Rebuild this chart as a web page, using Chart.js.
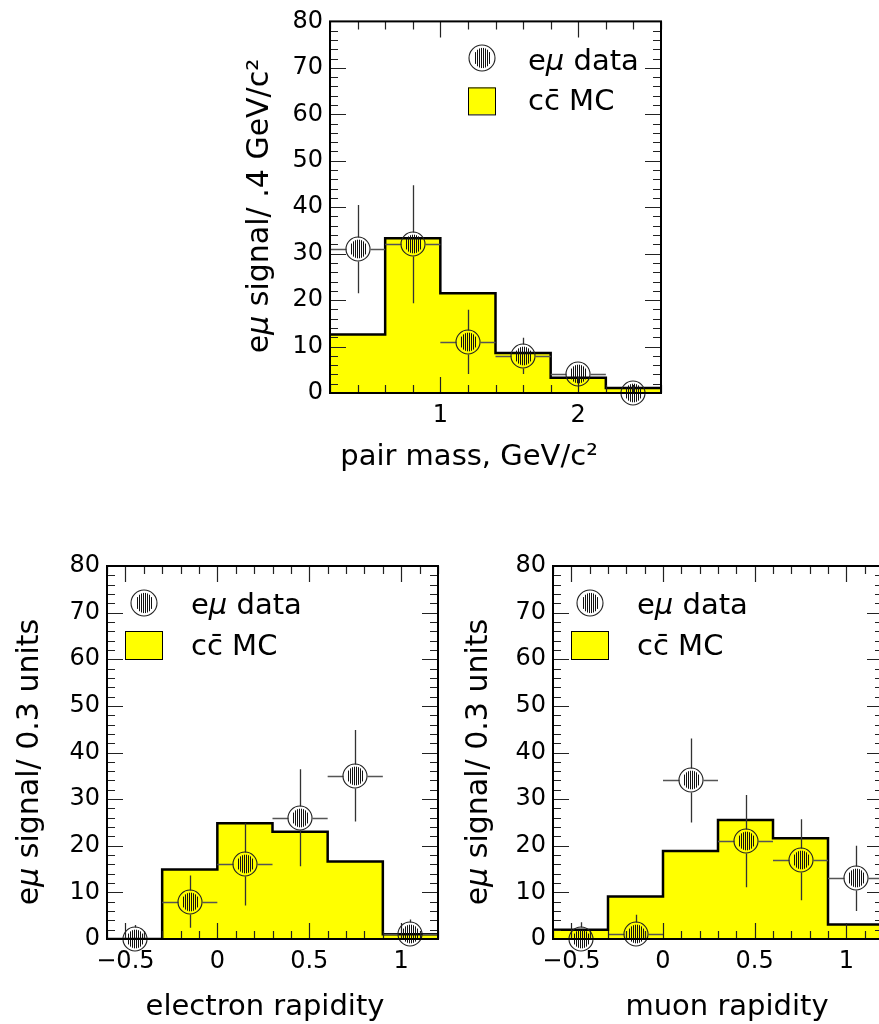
<!DOCTYPE html>
<html>
<head>
<meta charset="utf-8">
<script src="https://cdn.jsdelivr.net/npm/chart.js@4.4.1/dist/chart.umd.min.js"></script>
<style>
    html, body { margin: 0; padding: 0; background: #fff; width: 879px; height: 1024px; overflow: hidden; }
    canvas { position: absolute; }
</style>
</head>
<body>
<canvas id="mass-chart" width="460" height="480" style="left:220px; top:0px;"></canvas>
<canvas id="electron-chart" width="450" height="484" style="left:0px; top:540px;"></canvas>
<canvas id="muon-chart" width="460" height="484" style="left:440px; top:540px;"></canvas>
<script>
// pair mass panel
const massEdges = [0.2, 0.6, 1.0, 1.4, 1.8, 2.2, 2.6];
const massMC = [12.6, 33.3, 21.5, 8.6, 3.3, 1.1];
const massCenters = [0.4, 0.8, 1.2, 1.6, 2.0, 2.4];
const massData = [31, 32, 11, 8, 4, 0];
const massErr = [9.5, 12.7, 6.9, 3.9, 2, 1];
const massTicks = [1, 2];

// rapidity panels
const rapEdges = [-0.6, -0.3, 0, 0.3, 0.6, 0.9, 1.2];
const rapCenters = [-0.45, -0.15, 0.15, 0.45, 0.75, 1.05];
const electronMC = [0, 14.9, 24.8, 23.0, 16.6, 1.0];
const electronData = [0, 8, 16, 26, 35, 1];
const electronErr = [3, 5.6, 8.8, 10.4, 9.8, 3.2];
const muonMC = [2.0, 9.1, 18.9, 25.5, 21.6, 3.1];
const muonData = [0, 1, 34, 21, 17, 13];
const muonErr = [3.6, 4.2, 9, 9.9, 8.7, 7];
const rapTicks = [-0.5, 0, 0.5, 1];

const yMin = 0;
const yMax = 80;
const yStep = 10;

const legendData = [{t: 'e'}, {t: 'μ', it: true}, {t: ' data'}];
const legendMC = [{t: 'c'}, {t: 'c\u0304'}, {t: ' MC'}];

document.addEventListener('DOMContentLoaded', function() {
    const FONT = '"DejaVu Sans"';
    const YELLOW = '#ffff00';
    const R = 12;

    // circle with vertical hatching, centred on (x, y)
    function drawMarker(ctx, x, y, r) {
        const cx = Math.round(x);
        const cy = Math.round(y);
        ctx.save();
        ctx.strokeStyle = '#222';
        ctx.lineWidth = 1.1;
        ctx.beginPath();
        ctx.arc(cx, cy, r, 0, Math.PI * 2);
        ctx.stroke();
        ctx.lineWidth = 1;
        ctx.strokeStyle = '#111';
        for (let dx = -7; dx <= 7; dx += 2) {
            const h = r * 0.78 * Math.sqrt(1 - Math.pow(dx / 8.6, 2));
            ctx.beginPath();
            ctx.moveTo(cx + dx + 0.5, cy - h);
            ctx.lineTo(cx + dx + 0.5, cy + h);
            ctx.stroke();
        }
        ctx.restore();
    }

    function fontFor(run, size) {
        return (run.it ? 'italic ' : '') + size + 'px ' + FONT;
    }

    function drawRuns(ctx, runs, x, y, size, align) {
        const widths = runs.map(r => { ctx.font = fontFor(r, size); return ctx.measureText(r.t).width; });
        const total = widths.reduce((a, b) => a + b, 0);
        let cx = align === 'center' ? x - total / 2 : x;
        ctx.textAlign = 'left';
        ctx.textBaseline = 'alphabetic';
        ctx.fillStyle = '#000';
        runs.forEach((r, i) => {
            ctx.font = fontFor(r, size);
            ctx.fillText(r.t, cx, y);
            cx += widths[i];
        });
    }

    function fmt(v) {
        return v < 0 ? '\u2212' + String(-v) : String(v);
    }

    const histPlugin = {
        id: 'histDecor',
        beforeDatasetDraw(chart, args) {
            if (args.index !== 0) return;
            const p = chart.options.plugins.histDecor;
            const xs = chart.scales.x, ys = chart.scales.y, a = chart.chartArea;
            const ctx = chart.ctx;
            ctx.save();
            ctx.beginPath();
            ctx.rect(a.left, a.top, a.right - a.left, a.bottom - a.top);
            ctx.clip();
            ctx.lineWidth = 1.3;
            p.centers.forEach((c, i) => {
                const v = p.data[i], e = p.err[i];
                const px = Math.round(xs.getPixelForValue(c)) + 0.5;
                const py = Math.round(ys.getPixelForValue(v)) + 0.5;
                const top = ys.getPixelForValue(v + e);
                const bot = ys.getPixelForValue(v - e);
                const xl = xs.getPixelForValue(c - p.half);
                const xr = xs.getPixelForValue(c + p.half);
                ctx.strokeStyle = '#333';
                ctx.beginPath();
                if (top < py - R) { ctx.moveTo(px, top); ctx.lineTo(px, py - R); }
                if (bot > py + R) { ctx.moveTo(px, py + R); ctx.lineTo(px, bot); }
                ctx.stroke();
                ctx.strokeStyle = '#555';
                ctx.beginPath();
                ctx.moveTo(xl, py); ctx.lineTo(px - R, py);
                ctx.moveTo(px + R, py); ctx.lineTo(xr, py);
                ctx.stroke();
            });
            ctx.restore();
        },
        afterDatasetsDraw(chart) {
            const meta = chart.getDatasetMeta(0);
            meta.data.forEach(pt => drawMarker(chart.ctx, pt.x, pt.y, R));
        },
        afterDraw(chart) {
            const p = chart.options.plugins.histDecor;
            const xs = chart.scales.x, ys = chart.scales.y, a = chart.chartArea;
            const ctx = chart.ctx;
            ctx.save();

            // inward tick marks on all four sides
            ctx.strokeStyle = '#222';
            ctx.lineWidth = 1.2;
            ctx.beginPath();
            const ny = Math.round((yMax - yMin) / 2);
            for (let k = 0; k <= ny; k++) {
                const v = yMin + k * 2;
                const len = v % yStep === 0 ? 16 : 8;
                const y = Math.round(ys.getPixelForValue(v)) + 0.5;
                ctx.moveTo(a.left, y); ctx.lineTo(a.left + len, y);
                ctx.moveTo(a.right, y); ctx.lineTo(a.right - len, y);
            }
            const nx = Math.round((p.xMax - p.xMin) / p.minor);
            for (let k = 0; k <= nx; k++) {
                const v = p.xMin + k * p.minor;
                const major = p.major.some(m => Math.abs(m - v) < 1e-6);
                const len = major ? 16 : 8;
                const x = Math.round(xs.getPixelForValue(v)) + 0.5;
                ctx.moveTo(x, a.bottom); ctx.lineTo(x, a.bottom - len);
                ctx.moveTo(x, a.top); ctx.lineTo(x, a.top + len);
            }
            ctx.stroke();

            // frame
            ctx.strokeStyle = '#000';
            ctx.lineWidth = 2;
            ctx.strokeRect(a.left, a.top, a.right - a.left, a.bottom - a.top);

            // legend
            const L = p.legend;
            drawMarker(ctx, a.left + L.mx, a.top + L.my, 13);
            ctx.fillStyle = YELLOW;
            ctx.fillRect(a.left + L.bx0, a.top + L.by0, L.bx1 - L.bx0, L.by1 - L.by0);
            ctx.strokeStyle = '#000';
            ctx.lineWidth = 1;
            ctx.strokeRect(a.left + L.bx0 + 0.5, a.top + L.by0 + 0.5, L.bx1 - L.bx0, L.by1 - L.by0);
            drawRuns(ctx, legendData, a.left + L.tx, a.top + L.ty1, 29, 'left');
            drawRuns(ctx, legendMC, a.left + L.tx, a.top + L.ty2, 29, 'left');

            // axis titles
            drawRuns(ctx, p.xTitle.runs, p.xTitle.x, p.xTitle.y, 29, 'center');
            ctx.translate(p.yTitle.x, p.yTitle.y);
            ctx.rotate(-Math.PI / 2);
            drawRuns(ctx, p.yTitle.runs, 0, 0, 30, 'center');
            ctx.restore();
        }
    };

    function makeChart(p) {
        const ctx = document.getElementById(p.id).getContext('2d');
        const canvas = ctx.canvas;
        const histPoints = p.edges.map((x, i) => ({x: x, y: p.mc[Math.min(i, p.mc.length - 1)]}));
        const dataPoints = p.centers.map((x, i) => ({x: x, y: p.data[i]}));
        return new Chart(ctx, {
            type: 'line',
            data: {
                datasets: [{
                    type: 'scatter',
                    label: 'e\u03bc data',
                    data: dataPoints,
                    pointRadius: 0,
                    clip: false
                }, {
                    type: 'line',
                    label: 'cc\u0304 MC',
                    data: histPoints,
                    stepped: 'before',
                    fill: 'origin',
                    backgroundColor: YELLOW,
                    borderColor: '#000',
                    borderWidth: 2.5,
                    pointRadius: 0
                }]
            },
            options: {
                responsive: false,
                animation: false,
                events: [],
                layout: {
                    autoPadding: false,
                    padding: {left: 0, top: p.area.top, right: canvas.width - p.area.right, bottom: 0}
                },
                plugins: {
                    legend: {display: false},
                    tooltip: {enabled: false},
                    histDecor: p
                },
                scales: {
                    x: {
                        type: 'linear',
                        min: p.xMin,
                        max: p.xMax,
                        grid: {display: false, drawTicks: false},
                        border: {display: false},
                        afterBuildTicks: function(s) { s.ticks = p.major.map(v => ({value: v})); },
                        afterFit: function(s) { s.height = canvas.height - p.area.bottom; },
                        ticks: {
                            padding: 8,
                            color: '#000',
                            maxRotation: 0,
                            autoSkip: false,
                            font: {family: 'DejaVu Sans', size: 24},
                            callback: v => fmt(v)
                        }
                    },
                    y: {
                        min: yMin,
                        max: yMax,
                        grid: {display: false, drawTicks: false},
                        border: {display: false},
                        afterFit: function(s) { s.width = p.area.left; },
                        ticks: {
                            stepSize: yStep,
                            padding: 7,
                            color: '#000',
                            font: {family: 'DejaVu Sans', size: 24}
                        }
                    }
                }
            },
            plugins: [histPlugin]
        });
    }

    const rapLegend = {mx: 37, my: 37, bx0: 18, bx1: 55, by0: 65, by1: 93, tx: 84, ty1: 48, ty2: 89};

    makeChart({
        id: 'mass-chart',
        edges: massEdges, mc: massMC, centers: massCenters, data: massData, err: massErr,
        half: 0.2, xMin: 0.2, xMax: 2.6, major: massTicks, minor: 0.2,
        area: {left: 110, top: 19, right: 441, bottom: 393},
        legend: {mx: 152, my: 37, bx0: 138, bx1: 165, by0: 66, by1: 93, tx: 198, ty1: 49, ty2: 89},
        xTitle: {runs: [{t: 'pair mass, GeV/c\u00b2'}], x: 249, y: 465},
        yTitle: {runs: [{t: 'e'}, {t: 'μ', it: true}, {t: ' signal/ .4 GeV/c\u00b2'}], x: 48, y: 206}
    });

    makeChart({
        id: 'electron-chart',
        edges: rapEdges, mc: electronMC, centers: rapCenters, data: electronData, err: electronErr,
        half: 0.15, xMin: -0.6, xMax: 1.2, major: rapTicks, minor: 0.1,
        area: {left: 107, top: 26, right: 438, bottom: 399},
        legend: rapLegend,
        xTitle: {runs: [{t: 'electron rapidity'}], x: 265, y: 475},
        yTitle: {runs: [{t: 'e'}, {t: 'μ', it: true}, {t: ' signal/ 0.3 units'}], x: 38, y: 222}
    });

    makeChart({
        id: 'muon-chart',
        edges: rapEdges, mc: muonMC, centers: rapCenters, data: muonData, err: muonErr,
        half: 0.15, xMin: -0.6, xMax: 1.2, major: rapTicks, minor: 0.1,
        area: {left: 113, top: 26, right: 443, bottom: 399},
        legend: rapLegend,
        xTitle: {runs: [{t: 'muon rapidity'}], x: 287, y: 475},
        yTitle: {runs: [{t: 'e'}, {t: 'μ', it: true}, {t: ' signal/ 0.3 units'}], x: 47, y: 222}
    });
});
</script>
</body>
</html>
